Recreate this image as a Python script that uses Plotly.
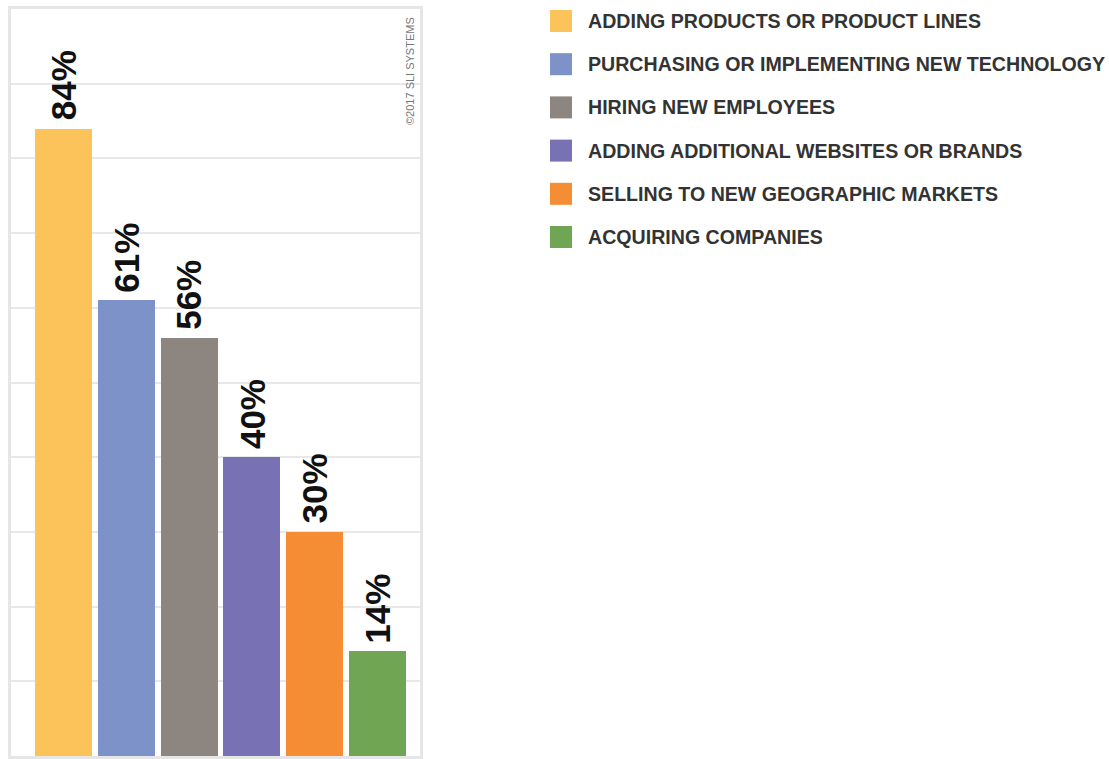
import plotly.graph_objects as go

# Survey responses: share of retailers planning each growth activity
categories = [
    "ADDING PRODUCTS OR PRODUCT LINES",
    "PURCHASING OR IMPLEMENTING NEW TECHNOLOGY",
    "HIRING NEW EMPLOYEES",
    "ADDING ADDITIONAL WEBSITES OR BRANDS",
    "SELLING TO NEW GEOGRAPHIC MARKETS",
    "ACQUIRING COMPANIES",
]
values = [84, 61, 56, 40, 30, 14]
colors = ["#FCC35A", "#7D92C9", "#8D857F", "#7872B5", "#F58D34", "#70A553"]
credit = "©2017 SLI SYSTEMS"

W, H = 1109, 759
ML, MR, MT, MB = 11, 3, 9, 3
plot_w = W - ML - MR
plot_h = H - MT - MB
chart_w = 409           # width of the bar panel in px
legend_left = 550       # left edge of the legend swatches in px

fig = go.Figure()

fig.add_trace(go.Bar(
    x=categories,
    y=values,
    marker=dict(color=colors, line=dict(width=0)),
    width=0.91,
    showlegend=False,
    hoverinfo="skip",
))

# value labels, rotated, sitting on top of each bar
annotations = []
for cat, v in zip(categories, values):
    annotations.append(dict(
        x=cat, y=v, xref="x", yref="y",
        text=f"<b>{v}%</b>",
        textangle=-90,
        showarrow=False,
        xanchor="center", yanchor="bottom",
        yshift=6,
        font=dict(family="Liberation Sans", size=35, color="#111111"),
    ))

annotations.append(dict(
    x=1, y=1, xref="x domain", yref="y domain",
    text=credit, textangle=-90, showarrow=False,
    xanchor="right", yanchor="top", xshift=-2, yshift=-6,
    font=dict(family="Liberation Sans", size=11, color="#777777"),
))

# custom legend drawn on its own pixel-scaled axes
row_px = [12 + 43.2 * i for i in range(len(categories))]
fig.add_trace(go.Scatter(
    x=[11] * len(categories),
    y=row_px,
    mode="markers",
    marker=dict(symbol="square", size=22, color=colors, line=dict(width=0)),
    xaxis="x2", yaxis="y2",
    showlegend=False, hoverinfo="skip",
))
for cat, yp in zip(categories, row_px):
    annotations.append(dict(
        x=36, y=yp, xref="x2", yref="y2",
        text=f"<b>{cat}</b>", showarrow=False,
        xanchor="left", yanchor="middle",
        font=dict(family="Liberation Sans", size=19.6, color="#333333"),
    ))

leg_dom0 = (legend_left - ML) / plot_w

fig.update_layout(
    width=W, height=H,
    margin=dict(l=ML, r=MR, t=MT, b=MB, pad=0),
    paper_bgcolor="white",
    plot_bgcolor="white",
    bargap=0,
    annotations=annotations,
    xaxis=dict(
        domain=[0, chart_w / plot_w],
        range=[-0.84, 5.68],
        showticklabels=False, ticks="",
        showgrid=False, zeroline=False,
        showline=True, mirror=True, linecolor="#e6e6e6", linewidth=3,
        fixedrange=True,
    ),
    yaxis=dict(
        range=[0, 100], dtick=10,
        showticklabels=False, ticks="",
        showgrid=True, gridcolor="#e8e8e8", gridwidth=2,
        zeroline=False,
        showline=True, mirror=True, linecolor="#e6e6e6", linewidth=3,
        fixedrange=True,
    ),
    xaxis2=dict(
        domain=[leg_dom0, 1], range=[0, plot_w * (1 - leg_dom0)],
        visible=False, fixedrange=True,
    ),
    yaxis2=dict(
        domain=[0, 1], range=[plot_h, 0], anchor="x2",
        visible=False, fixedrange=True,
    ),
)

fig.write_html("out.html")
